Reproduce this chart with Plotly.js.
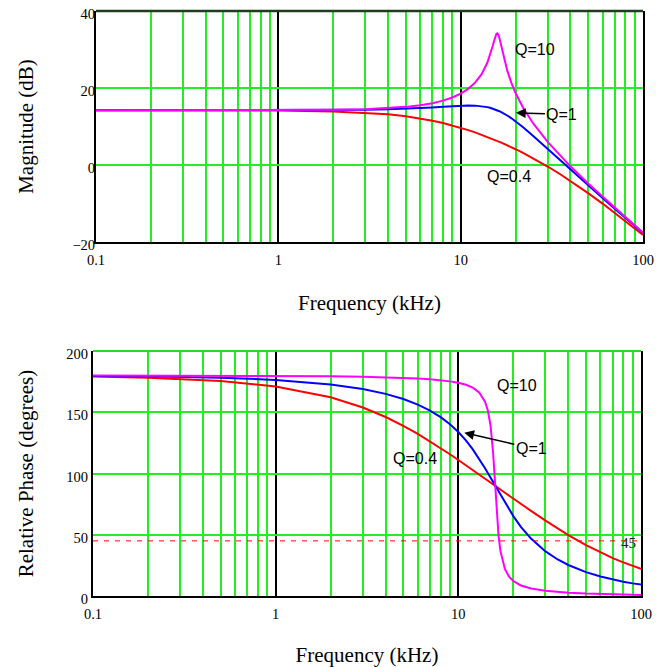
<!DOCTYPE html>
<html>
<head>
<meta charset="utf-8">
<script src="https://cdn.plot.ly/plotly-3.0.1.min.js"></script>
<style>html,body{margin:0;padding:0;background:#fff;}#chart{width:671px;height:667px;}</style>
</head>
<body>
<div id="chart"></div>
<script>
// Frequency (kHz)
var freq = [0.1,0.2,0.5,1,2,3,4,5,6,7,8,9,10,11,12,13,14,14.5,15,15.2,15.5,15.7,15.9,16.1,16.3,16.6,17,18,19,20,22,25,30,35,40,50,60,70,80,90,100];

// Magnitude (dB)
var magQ04 = [14.2,14.2,14.18,14.13,13.92,13.58,13.15,12.65,12.09,11.50,10.90,10.28,9.67,9.06,8.47,7.88,7.30,7.02,6.74,6.63,6.46,6.35,6.24,6.13,6.02,5.86,5.65,5.12,4.61,4.10,3.13,1.74,-0.39,-2.34,-4.12,-7.29,-10.02,-12.42,-14.55,-16.46,-18.19];
var magQ1  = [14.2,14.2,14.2,14.22,14.27,14.35,14.47,14.61,14.77,14.94,15.11,15.27,15.39,15.45,15.42,15.29,15.03,14.86,14.65,14.56,14.41,14.31,14.2,14.09,13.97,13.79,13.54,12.86,12.13,11.36,9.81,7.54,4.15,1.27,-1.21,-5.29,-8.58,-11.33,-13.70,-15.78,-17.64];
var magQ10 = [14.2,14.2,14.2,14.23,14.34,14.51,14.77,15.10,15.53,16.06,16.72,17.53,18.53,19.78,21.39,23.53,26.55,28.56,30.98,32.01,33.42,34.04,34.2,33.83,33.03,31.41,29.16,24.56,21.25,18.70,14.88,10.79,6.01,2.49,-0.34,-4.78,-8.24,-11.09,-13.52,-15.64,-17.52];

// Relative phase (degrees)
var phaseQ04 = [179.1,178.2,175.5,171.0,162.3,153.9,146.1,138.9,132.3,126.2,120.7,115.7,111.0,106.8,102.8,99.2,95.8,94.2,92.7,92.1,91.2,90.6,90,89.4,88.9,88.0,86.9,84.3,81.8,79.5,75.2,69.5,61.5,55.1,49.7,41.5,35.5,30.9,27.4,24.5,22.2];
var phaseQ1  = [179.6,179.3,178.2,176.4,172.7,168.9,165.0,160.8,156.2,151.4,146.0,140.2,133.9,127.0,119.7,112.1,104.3,100.5,96.7,95.1,92.9,91.5,90,88.6,87.2,85.1,82.4,76.0,70.3,65.2,56.5,46.9,36.4,29.8,25.3,19.5,15.9,13.5,11.7,10.3,9.3];
var phaseQ10 = [180.0,179.9,179.8,179.6,179.3,178.9,178.5,178.0,177.5,176.9,176.1,175.2,174.1,172.4,170.1,166.1,158.6,151.6,139.4,132.0,117.0,104.2,90,76.0,63.6,49.2,36.8,21.9,15.6,12.2,8.6,6.1,4.2,3.3,2.7,2.0,1.6,1.4,1.2,1.0,0.9];

// Axis ticks
var xLabelVals = [0.1,1,10,100];
var xLabelText = ["0.1","1","10","100"];
var xMinorVals = [0.2,0.3,0.4,0.5,0.6,0.7,0.8,0.9,2,3,4,5,6,7,8,9,20,30,40,50,60,70,80,90];
var magTicks = [-20,0,20,40];
var phaseTicks = [0,50,100,150,200];
var refPhase = 45;

var GRID = "#22ee22";
var serif = "Liberation Serif, Times New Roman, Tinos, DejaVu Serif, serif";
var sans = "Liberation Sans, Arial, Arimo, sans-serif";

function trace(y, color, xa, ya, name) {
  return {x: freq, y: y, type: "scatter", mode: "lines", name: name, xaxis: xa, yaxis: ya,
          line: {color: color, width: 2}, hoverinfo: "skip"};
}

var data = [
  trace(magQ04, "#ff0000", "x", "y", "Q=0.4"),
  trace(magQ1, "#0000ff", "x", "y", "Q=1"),
  trace(magQ10, "#ff00ff", "x", "y", "Q=10"),
  trace(phaseQ04, "#ff0000", "x2", "y2", "Q=0.4"),
  trace(phaseQ1, "#0000ff", "x2", "y2", "Q=1"),
  trace(phaseQ10, "#ff00ff", "x2", "y2", "Q=10"),
  {x: [0.1, 100], y: [refPhase, refPhase], type: "scatter", mode: "lines", xaxis: "x2", yaxis: "y2",
   line: {color: "#ff0000", width: 1, dash: "5px,6px"}, hoverinfo: "skip", name: "45"}
];

function xaxis(domain, anchor) {
  return {
    type: "log", range: [-1, 2], domain: domain, anchor: anchor,
    tickmode: "array", tickvals: xLabelVals, ticktext: xLabelText,
    showgrid: true, gridcolor: "#000", gridwidth: 2,
    minor: {tickmode: "array", tickvals: xMinorVals, showgrid: true, gridcolor: GRID, gridwidth: 2, ticks: ""},
    showline: true, linecolor: "#000", linewidth: 2, mirror: false,
    ticks: "", ticklen: 0, ticklabelstandoff: 4, ticklabeloverflow: "allow",
    tickfont: {family: serif, size: 14.5, color: "#000"},
    zeroline: false, automargin: false,
    title: {text: "Frequency (kHz)", font: {family: serif, size: 21, color: "#000"}, standoff: 28}
  };
}
function yaxis(domain, anchor, range, ticks, title, standoff, tstand) {
  return {
    range: range, domain: domain, anchor: anchor,
    tickmode: "array", tickvals: ticks,
    showgrid: true, gridcolor: GRID, gridwidth: 2,
    showline: true, linecolor: "#000", linewidth: 2, mirror: true,
    ticks: "", ticklen: 0, ticklabelstandoff: standoff, ticklabelshift: 3, ticklabeloverflow: "allow",
    tickfont: {family: serif, size: 14.5, color: "#000"},
    zeroline: false, automargin: false,
    title: {text: title, font: {family: serif, size: 21, color: "#000"}, standoff: tstand}
  };
}

var shapes = [
  {type: "line", xref: "x domain", yref: "y domain", x0: 0, x1: 1, y0: 1, y1: 1, layer: "above", line: {color: "#1d3d1d", width: 2.5}},
  {type: "line", xref: "x2 domain", yref: "y2 domain", x0: 0, x1: 1, y0: 1, y1: 1, layer: "above", line: {color: "#22dd22", width: 2}}
];

var afont = {family: sans, size: 16, color: "#000"};
var annotations = [
  {xref: "x", yref: "y", x: Math.log10(25.6), y: 29.9, text: "Q=10", showarrow: false, font: afont, xanchor: "center", yanchor: "middle"},
  {xref: "x", yref: "y", x: Math.log10(20.1), y: 13.55, text: "Q=1", showarrow: true, ax: 46, ay: 1.5, axref: "pixel", ayref: "pixel",
   arrowhead: 2, arrowsize: 1.3, arrowwidth: 1.5, arrowcolor: "#000", font: afont, standoff: 0},
  {xref: "x", yref: "y", x: Math.log10(18.34), y: -3.1, text: "Q=0.4", showarrow: false, font: afont, xanchor: "center", yanchor: "middle"},
  {xref: "x2", yref: "y2", x: Math.log10(20.87), y: 172.2, text: "Q=10", showarrow: false, font: afont, xanchor: "center", yanchor: "middle"},
  {xref: "x2", yref: "y2", x: Math.log10(10.78), y: 133.3, text: "Q=1", showarrow: true, ax: 67, ay: 15.6, axref: "pixel", ayref: "pixel",
   arrowhead: 2, arrowsize: 1.3, arrowwidth: 1.5, arrowcolor: "#000", font: afont, standoff: 0},
  {xref: "x2", yref: "y2", x: Math.log10(5.77), y: 112.4, text: "Q=0.4", showarrow: false, font: afont, xanchor: "center", yanchor: "middle"},
  {xref: "x2", yref: "y2", x: Math.log10(85.9), y: 43.3, text: String(refPhase), showarrow: false,
   font: {family: serif, size: 15, color: "#222"}, xanchor: "center", yanchor: "middle"}
];

var layout = {
  width: 671, height: 667,
  margin: {l: 0, r: 0, t: 0, b: 0},
  paper_bgcolor: "#fff", plot_bgcolor: "#fff",
  showlegend: false,
  xaxis: xaxis([96/671, 643/671], "y"),
  yaxis: yaxis([1 - 242/667, 1 - 11/667], "x", [-20, 40], magTicks, "Magnitude (dB)", -4, 33),
  xaxis2: xaxis([93/671, 641/671], "y2"),
  yaxis2: yaxis([1 - 596/667, 1 - 351/667], "x2", [0, 200], phaseTicks, "Relative Phase (degrees)", 0, 27),
  shapes: shapes,
  annotations: annotations
};

Plotly.newPlot("chart", data, layout, {displayModeBar: false, staticPlot: true});
</script>
</body>
</html>
